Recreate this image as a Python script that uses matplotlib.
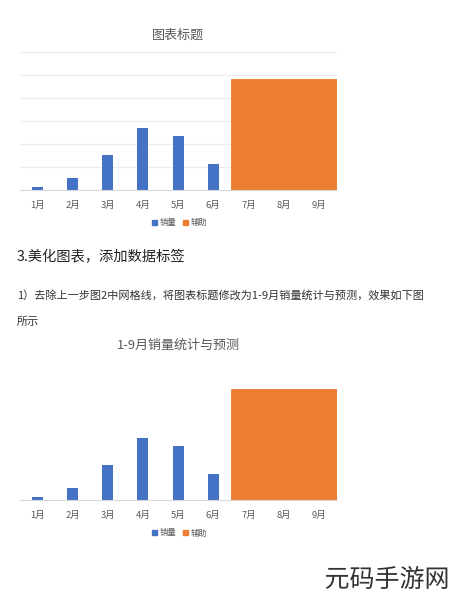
import matplotlib
matplotlib.use("Agg")
import matplotlib.pyplot as plt
import matplotlib.patheffects as pe
from matplotlib.patches import Patch

plt.rcParams['font.family'] = ['Noto Sans CJK SC', 'DejaVu Sans']

months = ["1月", "2月", "3月", "4月", "5月", "6月", "7月", "8月", "9月"]
sales = [1.2, 5, 15.2, 26.8, 23.5, 11.3, 0, 0, 0]
aux = [0, 0, 0, 0, 0, 0, 48, 48, 48]
series_names = ["销量", "辅助"]
title1 = "图表标题"
title2 = "1-9月销量统计与预测"
heading = "3.美化图表，添加数据标签"
para1 = "1）去除上一步图2中网格线，将图表标题修改为1-9月销量统计与预测，效果如下图"
para2 = "所示"
watermark = "元码手游网"

BLUE = "#4472C4"
ORANGE = "#ED7D31"
W, H = 450, 600

fig = plt.figure(figsize=(4.5, 6), dpi=100)
fig.patch.set_facecolor("white")


def px_axes(left, top, right, bottom):
    return fig.add_axes([left / W, 1 - bottom / H, (right - left) / W, (bottom - top) / H])


def draw_chart(ax, grid):
    x = list(range(len(months)))
    ax.bar(x, sales, width=0.31, color=BLUE, linewidth=0)
    ax.bar(x, aux, width=1.0, color=ORANGE, edgecolor=ORANGE, linewidth=0.6)
    ax.set_xlim(-0.5, 8.5)
    ax.set_ylim(0, 60)
    ax.set_xticks(x)
    ax.set_xticklabels(months, fontsize=6.8, color="#595959")
    ax.tick_params(axis="x", length=0, pad=8)
    ax.set_yticks([10, 20, 30, 40, 50, 60] if grid else [])
    ax.tick_params(axis="y", length=0, labelleft=False)
    for s in ["top", "right", "left"]:
        ax.spines[s].set_visible(False)
    ax.spines["bottom"].set_color("#d9d9d9")
    ax.spines["bottom"].set_linewidth(0.8)
    if grid:
        ax.grid(axis="y", color="#ececec", linewidth=0.8)
        ax.set_axisbelow(True)
    ax.set_facecolor("white")


ax1 = px_axes(19.7, 51.7, 336.6, 190)
draw_chart(ax1, True)
ax2 = px_axes(19.7, 361.7, 336.6, 500)
draw_chart(ax2, False)

handles = [Patch(color=BLUE), Patch(color=ORANGE)]
for yc in (222.7, 533):
    fig.legend(handles, series_names, loc="center", bbox_to_anchor=(180 / W, 1 - yc / H),
               ncol=2, frameon=False, fontsize=6, handlelength=0.6, handleheight=0.6,
               handletextpad=0.3, columnspacing=0.8, labelcolor="#595959")

fig.text(178 / W, 1 - 35 / H, title1, ha="center", va="center", fontsize=9.4, color="#595959")
fig.text(178.5 / W, 1 - 345 / H, title2, ha="center", va="center", fontsize=9.4, color="#595959")
fig.text(17 / W, 1 - 257 / H, heading, ha="left", va="center", fontsize=10.3, color="#222222")
fig.text(17 / W, 1 - 295 / H, para1, ha="left", va="center", fontsize=8, color="#333333")
fig.text(17 / W, 1 - 322 / H, para2, ha="left", va="center", fontsize=8, color="#333333")
fig.text(387 / W, 1 - 580 / H, watermark, ha="center", va="center", fontsize=18,
         color="#333333", fontweight="light",
         path_effects=[pe.withStroke(linewidth=3, foreground="white")])

fig.savefig("out.png", dpi=100)
